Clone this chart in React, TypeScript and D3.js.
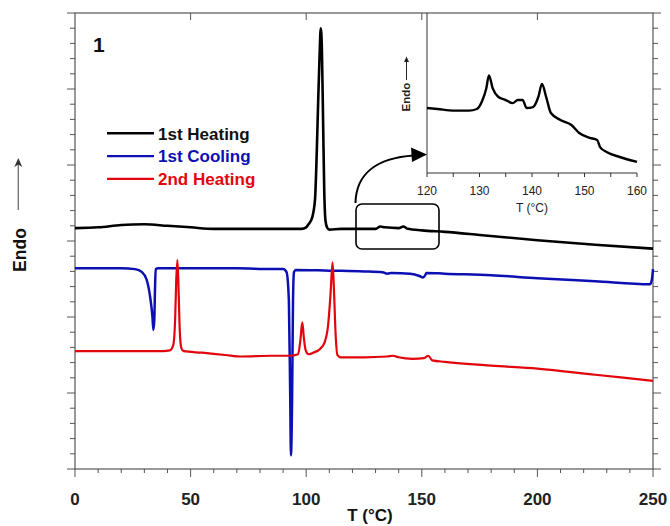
import React from "react";
import * as d3 from "d3";

// ---- Data (T in °C, heat flow in arbitrary offset units) ----
const heating1T = [0, 10, 20, 30, 40, 50, 60, 80, 95, 98, 100, 101, 102.5, 103.8, 104.6, 105.2, 105.8, 106.3, 106.8, 107.3, 107.8, 108.3, 109, 110, 115, 120, 125, 130, 132, 134, 140, 142, 144, 150, 160, 175, 200, 225, 250];
const heating1V = [3.17, 3.18, 3.21, 3.22, 3.2, 3.18, 3.16, 3.16, 3.16, 3.16, 3.18, 3.22, 3.3, 3.54, 4.2, 4.86, 5.45, 5.8, 5.51, 4.59, 3.67, 3.28, 3.18, 3.15, 3.16, 3.16, 3.16, 3.16, 3.19, 3.18, 3.17, 3.19, 3.16, 3.14, 3.12, 3.08, 3.01, 2.95, 2.9];

const cooling1T = [0, 10, 20, 26, 29, 31, 32.7, 33.5, 33.9, 34.3, 34.6, 34.9, 36, 50, 70, 85, 90, 91.5, 92.5, 93.1, 93.4, 93.9, 94.3, 94.7, 95.5, 110, 125, 133, 135, 137, 145, 149, 150.5, 151.5, 152, 160, 180, 200, 225, 248.7, 249.5, 250];
const cooling1V = [2.64, 2.64, 2.64, 2.63, 2.59, 2.49, 2.22, 2.0, 1.83, 1.96, 2.36, 2.63, 2.64, 2.64, 2.64, 2.63, 2.63, 2.59, 2.22, 0.91, 0.18, 0.91, 2.22, 2.59, 2.62, 2.61, 2.6, 2.59, 2.57, 2.58, 2.57, 2.54, 2.52, 2.55, 2.58, 2.57, 2.55, 2.51, 2.47, 2.43, 2.49, 2.63];

const heating2T = [0, 20, 38, 41, 42.5, 43.3, 43.8, 44.3, 44.8, 45.3, 46, 47, 55, 65, 72, 85, 93, 96.5, 97.5, 98.3, 99, 99.8, 101, 103, 106, 108, 109.5, 110.5, 111.4, 112, 112.7, 113.5, 115, 125, 135, 137.5, 140, 146, 151, 152.8, 154.5, 160, 180, 200, 225, 250];
const heating2V = [1.55, 1.55, 1.55, 1.56, 1.63, 1.96, 2.49, 2.75, 2.36, 1.83, 1.59, 1.55, 1.53, 1.5, 1.48, 1.49, 1.49, 1.51, 1.7, 1.93, 1.72, 1.56, 1.51, 1.53, 1.58, 1.67, 1.9, 2.29, 2.72, 2.36, 1.79, 1.5, 1.47, 1.47, 1.48, 1.49, 1.47, 1.45, 1.46, 1.49, 1.43, 1.41, 1.36, 1.32, 1.24, 1.16];

const insetT = [120, 122, 125, 128, 129.5, 130.5, 131.3, 131.8, 132.5, 133.6, 135, 136.3, 137.3, 138.2, 139, 140.2, 141.2, 141.9, 142.7, 143.6, 145.5, 147.5, 149, 151, 152.4, 153, 154.3, 156.7, 160];
const insetV = [4.06, 4.0, 3.9, 3.9, 4.0, 4.5, 5.3, 6.1, 5.3, 4.75, 4.56, 4.37, 4.56, 4.56, 4.06, 4.12, 4.75, 5.56, 4.75, 3.75, 3.3, 3.0, 2.5, 2.2, 2.06, 1.6, 1.3, 1.0, 0.7];

const seriesNames = ["1st Heating", "1st Cooling", "2nd Heating"];
const seriesColors = ["#000000", "#0c10b2", "#e2060c"];
const xTicks = [0, 50, 100, 150, 200, 250];
const insetTicks = [120, 130, 140, 150, 160];

const FONT = "'Liberation Sans', Arial, Helvetica, sans-serif";
const AX = "#555";

export default function App() {
  const W = 670, H = 526;
  const L = 75, R = 653, T = 13, B = 469;
  const x = d3.scaleLinear().domain([0, 250]).range([L, R]);
  const y = d3.scaleLinear().domain([0, 6]).range([B, T]);

  const xi = d3.scaleLinear().domain([120, 160]).range([427, 637]);
  const yi = d3.scaleLinear().domain([0, 10]).range([173, 13]);

  const mk = (ts: number[], vs: number[]) =>
    d3.line<number>().x((_, i) => x(ts[i])).y((v) => y(v)).curve(d3.curveMonotoneX)(vs) || "";
  const insetPath =
    d3.line<number>().x((_, i) => xi(insetT[i])).y((v) => yi(v)).curve(d3.curveMonotoneX)(insetV) || "";

  const paths = [mk(heating1T, heating1V), mk(cooling1T, cooling1V), mk(heating2T, heating2V)];
  const widths = [2.6, 2.5, 2.2];

  const yMinor = d3.range(0, 6.001, 0.2);
  const xMinor = d3.range(0, 250.001, 10);
  const insetMinor = d3.range(120, 160.001, 5);

  return (
    <svg width={W} height={H} style={{ position: "absolute", left: 0, top: 0, background: "#fff" }} fontFamily={FONT}>
      {/* frame */}
      <rect x={L} y={T} width={R - L} height={B - T} fill="none" stroke={AX} strokeWidth={1.2} />
      {/* left/right ticks */}
      {yMinor.map((v, i) => {
        const major = Math.abs(v - Math.round(v)) < 1e-6;
        const len = major ? 8 : 5;
        return (
          <g key={"yt" + i}>
            <line x1={L - len} x2={L} y1={y(v)} y2={y(v)} stroke={AX} strokeWidth={1} />
            <line x1={R} x2={R + len} y1={y(v)} y2={y(v)} stroke={AX} strokeWidth={1} />
          </g>
        );
      })}
      {/* bottom ticks */}
      {xMinor.map((v, i) => {
        const major = v % 50 === 0;
        return <line key={"xt" + i} x1={x(v)} x2={x(v)} y1={B} y2={B + (major ? 8 : 4)} stroke={AX} strokeWidth={1} />;
      })}
      {/* top ticks */}
      {xTicks.slice(1, -1).map((v) => (
        <line key={"tt" + v} x1={x(v)} x2={x(v)} y1={T} y2={T + 7} stroke={AX} strokeWidth={1} />
      ))}
      {xTicks.map((v) => (
        <text key={"xl" + v} x={x(v)} y={505} textAnchor="middle" fontSize={17} fontWeight="bold" fill="#222">
          {v}
        </text>
      ))}
      <text x={370} y={521} textAnchor="middle" fontSize={17} fontWeight="bold" fill="#111">
        T (°C)
      </text>
      {/* y label */}
      <text transform="translate(25.5,250) rotate(-90)" textAnchor="middle" fontSize={17.5} fontWeight="bold" fill="#111">
        Endo
      </text>
      <line x1={18.3} x2={18.3} y1={210} y2={164} stroke="#777" strokeWidth={1.4} />
      <path d="M14.3,167 L18.3,158 L22.3,167 L18.3,164.5 Z" fill="#333" />

      {/* series */}
      {paths.map((d, i) => (
        <path key={"s" + i} d={d} fill="none" stroke={seriesColors[i]} strokeWidth={widths[i]} strokeLinejoin="round" />
      ))}

      {/* panel number */}
      <text x={93} y={52} fontSize={21} fontWeight="bold" fill="#111">1</text>

      {/* legend */}
      {seriesNames.map((n, i) => (
        <g key={"lg" + i}>
          <line x1={107} x2={154} y1={133.3 + i * 22.8} y2={133.3 + i * 22.8} stroke={seriesColors[i]} strokeWidth={2.4} />
          <text x={158} y={139.5 + i * 22.8} fontSize={17} fontWeight="bold" fill={i === 0 ? "#111" : seriesColors[i]}>
            {n}
          </text>
        </g>
      ))}

      {/* zoom box + arrow */}
      <rect x={356} y={204} width={83} height={45} rx={6} fill="none" stroke="#000" strokeWidth={1.6} />
      <path d="M355.5,203 C356,175 375,158 414,155.5" fill="none" stroke="#000" strokeWidth={2} />
      <path d="M411,147.5 L427,154.5 L412,162 Z" fill="#000" />

      {/* inset */}
      <line x1={427} x2={427} y1={13} y2={173} stroke="#333" strokeWidth={1} />
      <line x1={427} x2={637} y1={173} y2={173} stroke="#333" strokeWidth={1} />
      {insetMinor.map((v) => (
        <line key={"it" + v} x1={xi(v)} x2={xi(v)} y1={173} y2={177} stroke="#333" strokeWidth={1} />
      ))}
      {insetTicks.map((v) => (
        <text key={"il" + v} x={xi(v)} y={195} textAnchor="middle" fontSize={12} fill="#222">
          {v}
        </text>
      ))}
      <text x={532} y={212} textAnchor="middle" fontSize={12} fill="#222">T (°C)</text>
      <text transform="translate(410,97) rotate(-90)" textAnchor="middle" fontSize={11.5} fontWeight="bold" fill="#222">
        Endo
      </text>
      <line x1={406.5} x2={406.5} y1={80} y2={61} stroke="#222" strokeWidth={1} />
      <path d="M404,62 L406.5,56.5 L409,62 Z" fill="#222" />
      <path d={insetPath} fill="none" stroke="#000" strokeWidth={2.4} strokeLinejoin="round" />
    </svg>
  );
}
